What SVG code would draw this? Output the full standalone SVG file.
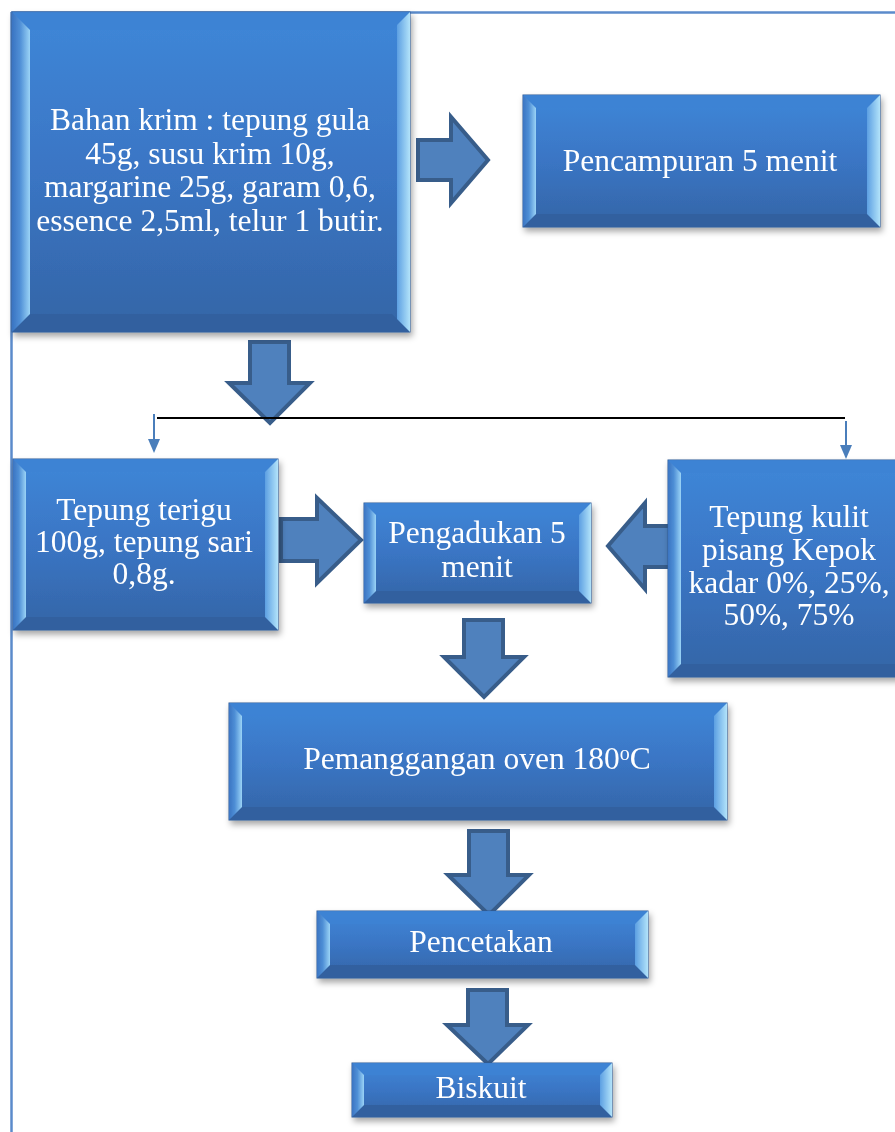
<svg xmlns="http://www.w3.org/2000/svg" width="895" height="1132" viewBox="0 0 895 1132">
<style>
.t{font-family:"Liberation Serif","Times New Roman",serif;font-size:31.5px;fill:#ffffff;text-anchor:middle}
.body{fill:url(#gBody);stroke:#2E5A95;stroke-width:1}
.tb{fill:#3D83D4;opacity:0.85}
.bb{fill:#30609F}
.lb{fill:url(#gL)}
.rb{fill:url(#gR)}
.blk{fill:#4F81BD;stroke:#385D8A;stroke-width:4;stroke-linejoin:miter}
.thin{stroke:#4A7EBB;stroke-width:2;fill:none}
.head{fill:#4A7EBB}
</style>
<defs>
<linearGradient id="gBody" x1="0" y1="0" x2="0" y2="1">
<stop offset="0" stop-color="#3F87D8"/>
<stop offset="0.5" stop-color="#3A75C4"/>
<stop offset="1" stop-color="#3465A6"/>
</linearGradient>
<linearGradient id="gL" x1="0" y1="0" x2="1" y2="0">
<stop offset="0" stop-color="#3A74C2"/>
<stop offset="0.45" stop-color="#4F8FD6"/>
<stop offset="1" stop-color="#9AD3F6"/>
</linearGradient>
<linearGradient id="gR" x1="0" y1="0" x2="1" y2="0">
<stop offset="0" stop-color="#5C9FE2"/>
<stop offset="1" stop-color="#B2E3FA"/>
</linearGradient>
<filter id="sh" x="-10%" y="-10%" width="125%" height="130%">
<feDropShadow dx="2" dy="4" stdDeviation="3" flood-color="#000" flood-opacity="0.35"/>
</filter>
</defs>

<g id="border">
<line x1="11.5" y1="12" x2="11.5" y2="1132" stroke="#5B8BCB" stroke-width="2.5"/>
<line x1="11" y1="12.5" x2="895" y2="12.5" stroke="#5B8BCB" stroke-width="2.5"/>
</g>

<g id="connectors">
<polygon class="blk" points="418,140 451,140 451,117 488,160 451,203 451,180 418,180"/>
<polygon class="blk" points="250,342 289,342 289,383 310,383 270,423 229,383 250,383"/>
<line x1="157" y1="418" x2="845" y2="418" stroke="#000" stroke-width="2"/>
<line class="thin" x1="154" y1="414" x2="154" y2="440"/>
<polygon class="head" points="148,439 160,439 154,453"/>
<line class="thin" x1="846" y1="421" x2="846" y2="446"/>
<polygon class="head" points="840,445 852,445 846,459"/>
<polygon class="blk" points="281,519 317,519 317,498 361,540 317,583 317,561 281,561"/>
<polygon class="blk" points="672,526 645,526 645,503 608,546 645,589 645,567 672,567"/>
<polygon class="blk" points="464,620 503,620 503,657 524,657 484,697 444,657 464,657"/>
<polygon class="blk" points="469,831 508,831 508,875 529,875 489,915 448,875 469,875"/>
<polygon class="blk" points="468,990 507,990 507,1025 528,1025 488,1064 447,1025 468,1025"/>
</g>

<g id="n-bahan" filter="url(#sh)">
<rect class="body" x="12" y="12" width="398" height="320"/>
<polygon class="tb" points="12,12 410,12 392,30 30,30"/>
<polygon class="bb" points="12,332 410,332 392,314 30,314"/>
<polygon class="lb" points="12,12 30,30 30,314 12,332"/>
<polygon class="rb" points="410,12 397,25 397,319 410,332"/>
<text class="t" x="210" y="130">Bahan krim : tepung gula</text>
<text class="t" x="210" y="163.5">45g, susu krim 10g,</text>
<text class="t" x="210" y="197">margarine 25g, garam 0,6,</text>
<text class="t" x="210" y="230.5">essence 2,5ml, telur 1 butir.</text>
</g>

<g id="n-pencampuran" filter="url(#sh)">
<rect class="body" x="523" y="95" width="357" height="132"/>
<polygon class="tb" points="523,95 880,95 867,108 536,108"/>
<polygon class="bb" points="523,227 880,227 867,214 536,214"/>
<polygon class="lb" points="523,95 536,108 536,214 523,227"/>
<polygon class="rb" points="880,95 867,108 867,214 880,227"/>
<text class="t" x="700" y="171">Pencampuran 5 menit</text>
</g>

<g id="n-terigu" filter="url(#sh)">
<rect class="body" x="13" y="459" width="265" height="171"/>
<polygon class="tb" points="13,459 278,459 265,472 26,472"/>
<polygon class="bb" points="13,630 278,630 265,617 26,617"/>
<polygon class="lb" points="13,459 26,472 26,617 13,630"/>
<polygon class="rb" points="278,459 265,472 265,617 278,630"/>
<text class="t" x="144" y="520">Tepung terigu</text>
<text class="t" x="144" y="552">100g, tepung sari</text>
<text class="t" x="144" y="584">0,8g.</text>
</g>

<g id="n-pengadukan" filter="url(#sh)">
<rect class="body" x="364" y="503" width="227" height="100"/>
<polygon class="tb" points="364,503 591,503 579,515 376,515"/>
<polygon class="bb" points="364,603 591,603 579,591 376,591"/>
<polygon class="lb" points="364,503 376,515 376,591 364,603"/>
<polygon class="rb" points="591,503 579,515 579,591 591,603"/>
<text class="t" x="477" y="543">Pengadukan 5</text>
<text class="t" x="477" y="577">menit</text>
</g>

<g id="n-kulit" filter="url(#sh)">
<rect class="body" x="668" y="460" width="240" height="217"/>
<polygon class="tb" points="668,460 908,460 895,473 681,473"/>
<polygon class="bb" points="668,677 908,677 895,664 681,664"/>
<polygon class="lb" points="668,460 681,473 681,664 668,677"/>
<text class="t" x="789" y="527">Tepung kulit</text>
<text class="t" x="789" y="560">pisang Kepok</text>
<text class="t" x="789" y="592.5">kadar 0%, 25%,</text>
<text class="t" x="789" y="625">50%, 75%</text>
</g>

<g id="n-pemanggangan" filter="url(#sh)">
<rect class="body" x="229" y="703" width="498" height="117"/>
<polygon class="tb" points="229,703 727,703 714,716 242,716"/>
<polygon class="bb" points="229,820 727,820 714,807 242,807"/>
<polygon class="lb" points="229,703 242,716 242,807 229,820"/>
<polygon class="rb" points="727,703 714,716 714,807 727,820"/>
<text class="t" x="477" y="769">Pemanggangan oven 180<tspan font-size="20" dy="-9">o</tspan><tspan dy="9">C</tspan></text>
</g>

<g id="n-pencetakan" filter="url(#sh)">
<rect class="body" x="317" y="911" width="331" height="67"/>
<polygon class="tb" points="317,911 648,911 635,924 330,924"/>
<polygon class="bb" points="317,978 648,978 635,965 330,965"/>
<polygon class="lb" points="317,911 330,924 330,965 317,978"/>
<polygon class="rb" points="648,911 635,924 635,965 648,978"/>
<text class="t" x="481" y="952">Pencetakan</text>
</g>

<g id="n-biskuit" filter="url(#sh)">
<rect class="body" x="352" y="1063" width="260" height="54"/>
<polygon class="tb" points="352,1063 612,1063 600,1075 364,1075"/>
<polygon class="bb" points="352,1117 612,1117 600,1105 364,1105"/>
<polygon class="lb" points="352,1063 364,1075 364,1105 352,1117"/>
<polygon class="rb" points="612,1063 600,1075 600,1105 612,1117"/>
<text class="t" x="481" y="1098">Biskuit</text>
</g>
</svg>
